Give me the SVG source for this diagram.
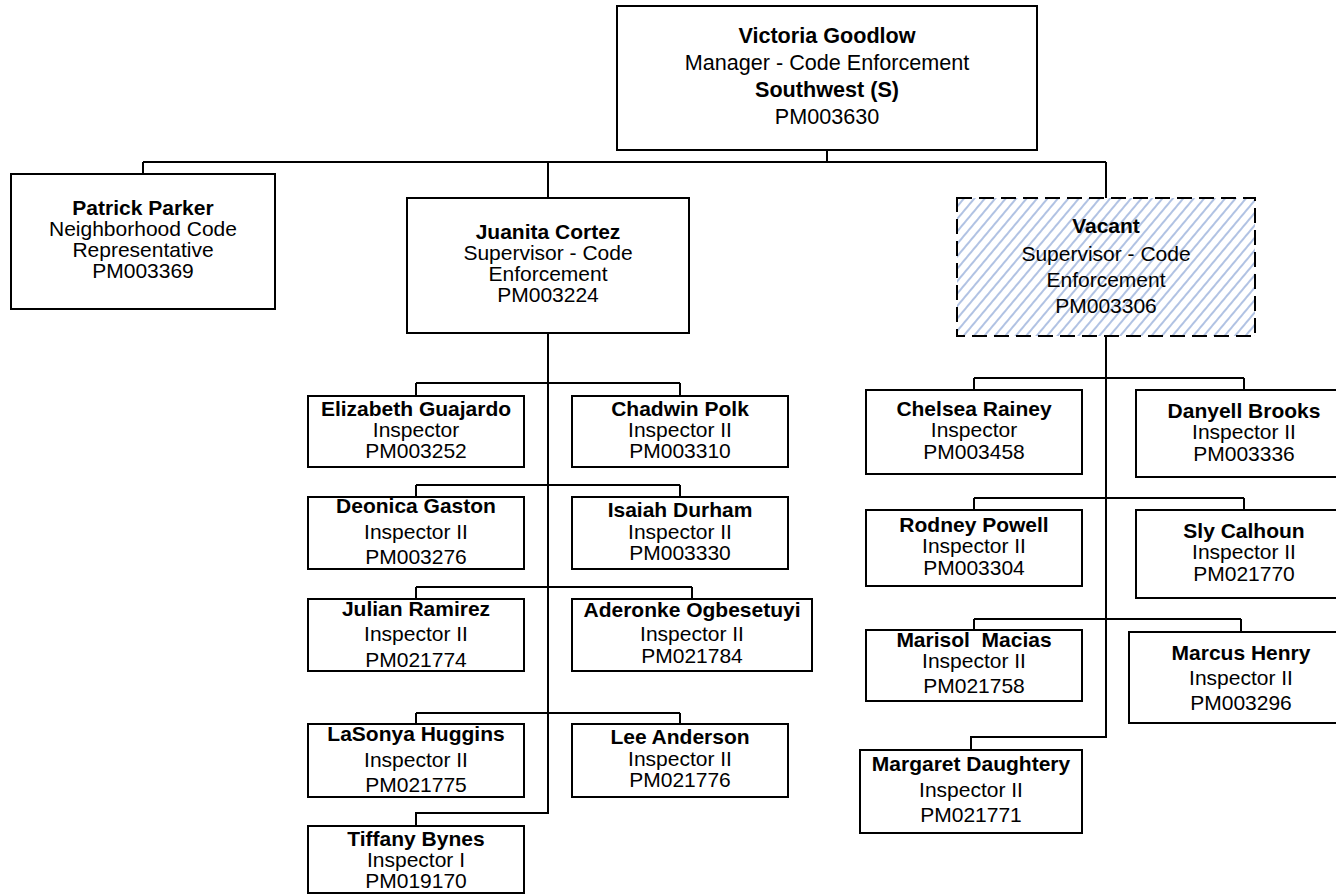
<svg xmlns="http://www.w3.org/2000/svg" width="1336" height="895" viewBox="0 0 1336 895">
<defs>
<pattern id="hatch" patternUnits="userSpaceOnUse" width="8" height="8" patternTransform="rotate(40)">
<rect width="8" height="8" fill="#ffffff"/>
<line x1="2" y1="0" x2="2" y2="8" stroke="#a3b8de" stroke-width="1.7"/>
</pattern>
</defs>
<style>
.box{fill:#ffffff;stroke:#000000;stroke-width:2}
.vac{fill:url(#hatch);stroke:#000000;stroke-width:2;stroke-dasharray:15 7}
.conn{fill:none;stroke:#000000;stroke-width:2}
text{font-family:"Liberation Sans",Arial,sans-serif;font-size:21px;fill:#000000;text-anchor:middle}
.b{font-weight:bold}
.t{font-size:21.6px}
</style>
<rect width="1336" height="895" fill="#ffffff"/>
<g id="connectors" class="conn">
<path d="M827 150V162M143 162H1106M143 162V174M548 162V198M1106 162V198"/>
<path d="M548 333V813H416V826"/>
<path d="M416 383H680M416 383V396M680 383V396"/>
<path d="M416 485H680M416 485V497M680 485V497"/>
<path d="M416 587H692M416 587V599M692 587V599"/>
<path d="M416 713H680M416 713V724M680 713V724"/>
<path d="M1106 336V737H971V750"/>
<path d="M974 378H1244M974 378V390M1244 378V390"/>
<path d="M974 498H1244M974 498V510M1244 498V510"/>
<path d="M974 619H1241M974 619V630M1241 619V632"/>
</g>
<g id="victoria-goodlow">
<rect class="box" x="617" y="6" width="420" height="144"/>
<text class="b t" x="827" y="43">Victoria Goodlow</text>
<text class="t" x="827" y="70">Manager - Code Enforcement</text>
<text class="b t" x="827" y="97">Southwest (S)</text>
<text class="t" x="827" y="124">PM003630</text>
</g>
<g id="patrick-parker">
<rect class="box" x="11" y="174" width="264" height="135"/>
<text class="b" x="143" y="215">Patrick Parker</text>
<text x="143" y="236">Neighborhood Code</text>
<text x="143" y="257">Representative</text>
<text x="143" y="278">PM003369</text>
</g>
<g id="juanita-cortez">
<rect class="box" x="407" y="198" width="282" height="135"/>
<text class="b" x="548" y="239">Juanita Cortez</text>
<text x="548" y="260">Supervisor - Code</text>
<text x="548" y="281">Enforcement</text>
<text x="548" y="302">PM003224</text>
</g>
<g id="vacant">
<rect class="vac" x="957" y="198" width="298" height="138"/>
<text class="b" x="1106" y="233">Vacant</text>
<text x="1106" y="261">Supervisor - Code</text>
<text x="1106" y="287">Enforcement</text>
<text x="1106" y="313">PM003306</text>
</g>
<g id="elizabeth-guajardo">
<rect class="box" x="308" y="396" width="216" height="71"/>
<text class="b" x="416" y="416">Elizabeth Guajardo</text>
<text x="416" y="437">Inspector</text>
<text x="416" y="458">PM003252</text>
</g>
<g id="chadwin-polk">
<rect class="box" x="572" y="396" width="216" height="71"/>
<text class="b" x="680" y="416">Chadwin Polk</text>
<text x="680" y="437">Inspector II</text>
<text x="680" y="458">PM003310</text>
</g>
<g id="deonica-gaston">
<rect class="box" x="308" y="497" width="216" height="72"/>
<text class="b" x="416" y="513">Deonica Gaston</text>
<text x="416" y="539">Inspector II</text>
<text x="416" y="564">PM003276</text>
</g>
<g id="isaiah-durham">
<rect class="box" x="572" y="497" width="216" height="72"/>
<text class="b" x="680" y="517">Isaiah Durham</text>
<text x="680" y="539">Inspector II</text>
<text x="680" y="560">PM003330</text>
</g>
<g id="julian-ramirez">
<rect class="box" x="308" y="599" width="216" height="72"/>
<text class="b" x="416" y="616">Julian Ramirez</text>
<text x="416" y="641">Inspector II</text>
<text x="416" y="667">PM021774</text>
</g>
<g id="aderonke-ogbesetuyi">
<rect class="box" x="572" y="599" width="240" height="72"/>
<text class="b" x="692" y="617">Aderonke Ogbesetuyi</text>
<text x="692" y="641">Inspector II</text>
<text x="692" y="663">PM021784</text>
</g>
<g id="lasonya-huggins">
<rect class="box" x="308" y="724" width="216" height="73"/>
<text class="b" x="416" y="741">LaSonya Huggins</text>
<text x="416" y="767">Inspector II</text>
<text x="416" y="792">PM021775</text>
</g>
<g id="lee-anderson">
<rect class="box" x="572" y="724" width="216" height="73"/>
<text class="b" x="680" y="744">Lee Anderson</text>
<text x="680" y="766">Inspector II</text>
<text x="680" y="787">PM021776</text>
</g>
<g id="tiffany-bynes">
<rect class="box" x="308" y="826" width="216" height="67"/>
<text class="b" x="416" y="846">Tiffany Bynes</text>
<text x="416" y="867">Inspector I</text>
<text x="416" y="888">PM019170</text>
</g>
<g id="chelsea-rainey">
<rect class="box" x="866" y="390" width="216" height="84"/>
<text class="b" x="974" y="416">Chelsea Rainey</text>
<text x="974" y="437">Inspector</text>
<text x="974" y="459">PM003458</text>
</g>
<g id="danyell-brooks">
<rect class="box" x="1136" y="390" width="216" height="87"/>
<text class="b" x="1244" y="418">Danyell Brooks</text>
<text x="1244" y="439">Inspector II</text>
<text x="1244" y="461">PM003336</text>
</g>
<g id="rodney-powell">
<rect class="box" x="866" y="510" width="216" height="76"/>
<text class="b" x="974" y="532">Rodney Powell</text>
<text x="974" y="553">Inspector II</text>
<text x="974" y="575">PM003304</text>
</g>
<g id="sly-calhoun">
<rect class="box" x="1136" y="510" width="216" height="88"/>
<text class="b" x="1244" y="538">Sly Calhoun</text>
<text x="1244" y="559">Inspector II</text>
<text x="1244" y="581">PM021770</text>
</g>
<g id="marisol-macias">
<rect class="box" x="866" y="630" width="216" height="71"/>
<text class="b" x="974" y="647" xml:space="preserve">Marisol  Macias</text>
<text x="974" y="668">Inspector II</text>
<text x="974" y="693">PM021758</text>
</g>
<g id="marcus-henry">
<rect class="box" x="1129" y="632" width="224" height="91"/>
<text class="b" x="1241" y="660">Marcus Henry</text>
<text x="1241" y="685">Inspector II</text>
<text x="1241" y="710">PM003296</text>
</g>
<g id="margaret-daughtery">
<rect class="box" x="860" y="750" width="222" height="83"/>
<text class="b" x="971" y="771">Margaret Daughtery</text>
<text x="971" y="797">Inspector II</text>
<text x="971" y="822">PM021771</text>
</g>
</svg>
